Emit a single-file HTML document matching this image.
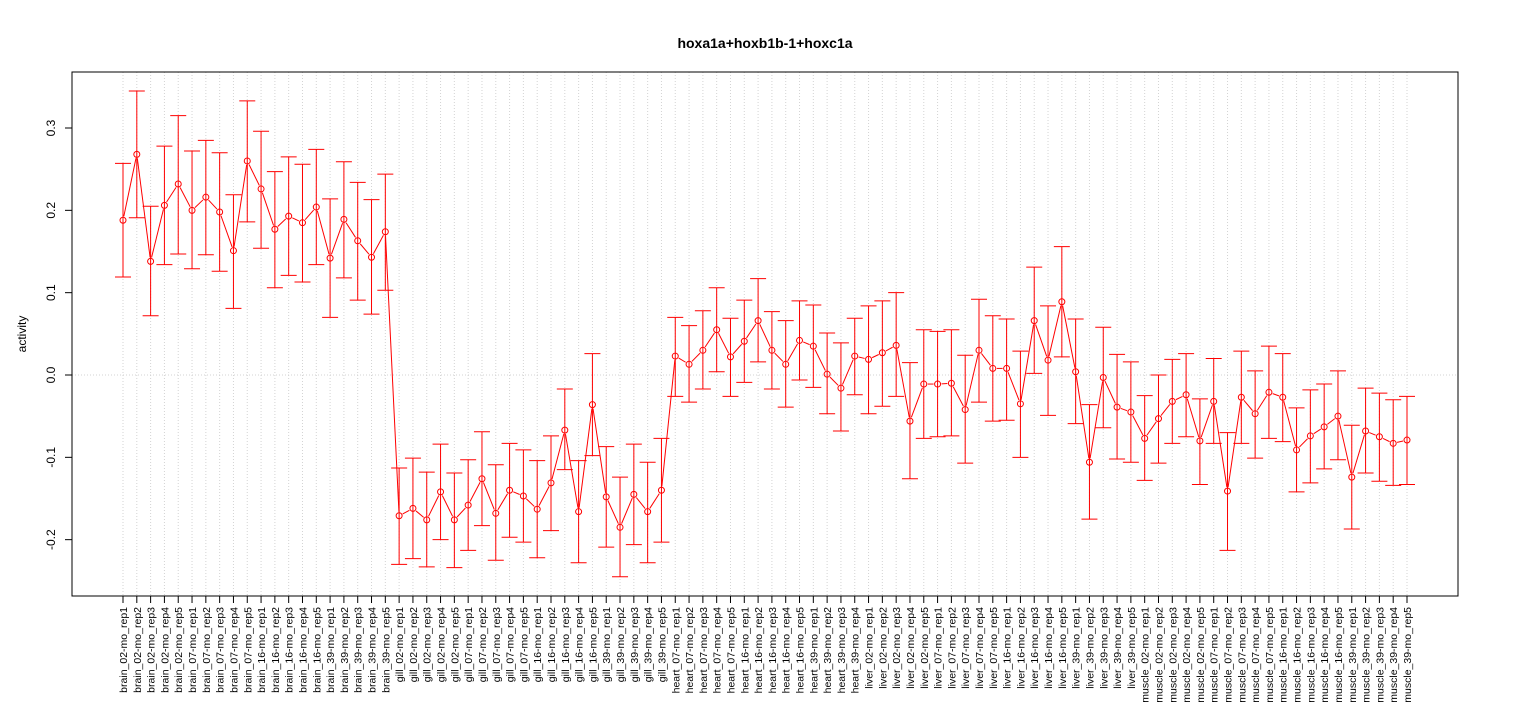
<!DOCTYPE html>
<html><head><meta charset="utf-8"><style>
html,body{margin:0;padding:0;background:#fff}
svg{display:block;font-family:"Liberation Sans",Arial,sans-serif}
</style></head><body>
<svg id="chart" width="1530" height="720" viewBox="0 0 1530 720" xmlns="http://www.w3.org/2000/svg">
<text x="765" y="48" text-anchor="middle" font-size="14" font-weight="bold">hoxa1a+hoxb1b-1+hoxc1a</text>
<text transform="translate(26,334) rotate(-90)" text-anchor="middle" font-size="12">activity</text>
<g id="grid"></g>
<g id="yaxis"></g>
<g id="xaxis"></g>
<g id="series"></g>
<rect x="72" y="72" width="1386" height="524" fill="none" stroke="#000" stroke-width="1"/>
</svg>
<script>
const tissues = ["brain","gill","heart","liver","muscle"];
const categories = [];
[["brain",["02","07","16","39"]],["gill",["02","07","16","39"]],["heart",["07","16","39"]],["liver",["02","07","16","39"]],["muscle",["02","07","16","39"]]].forEach(([t,ages])=>{
  ages.forEach(a=>{const n=(t==="heart"&&a==="39")?4:5;for(let r=1;r<=n;r++)categories.push(t+"_"+a+"-mo_rep"+r);});
});
const meanValues = [0.188,0.268,0.138,0.206,0.232,0.200,0.216,0.198,0.151,0.260,0.226,0.177,0.193,0.185,0.204,0.142,0.189,0.163,0.143,0.174,
-0.171,-0.162,-0.176,-0.142,-0.176,-0.158,-0.126,-0.168,-0.140,-0.147,-0.163,-0.131,-0.067,-0.166,-0.036,-0.148,-0.185,-0.145,-0.166,-0.140,
0.023,0.013,0.030,0.055,0.022,0.041,0.066,0.030,0.013,0.042,0.035,0.001,-0.016,0.023,
0.019,0.027,0.036,-0.056,-0.011,-0.011,-0.010,-0.042,0.030,0.008,0.008,-0.035,0.066,0.018,0.089,0.004,-0.106,-0.003,-0.039,-0.045,
-0.077,-0.053,-0.032,-0.024,-0.080,-0.032,-0.141,-0.027,-0.047,-0.021,-0.027,-0.091,-0.074,-0.063,-0.050,-0.124,-0.068,-0.075,-0.083,-0.079];
const upperValues = [0.257,0.345,0.205,0.278,0.315,0.272,0.285,0.270,0.219,0.333,0.296,0.247,0.265,0.256,0.274,0.214,0.259,0.234,0.213,0.244,
-0.113,-0.101,-0.118,-0.084,-0.119,-0.103,-0.069,-0.109,-0.083,-0.091,-0.104,-0.074,-0.017,-0.104,0.026,-0.087,-0.124,-0.084,-0.106,-0.077,
0.070,0.060,0.078,0.106,0.069,0.091,0.117,0.077,0.066,0.090,0.085,0.051,0.039,0.069,
0.084,0.090,0.100,0.015,0.055,0.053,0.055,0.024,0.092,0.072,0.068,0.029,0.131,0.084,0.156,0.068,-0.036,0.058,0.025,0.016,
-0.025,0.000,0.019,0.026,-0.029,0.020,-0.070,0.029,0.005,0.035,0.026,-0.040,-0.018,-0.011,0.005,-0.061,-0.016,-0.022,-0.030,-0.026];
const lowerValues = [0.119,0.191,0.072,0.134,0.147,0.129,0.146,0.126,0.081,0.186,0.154,0.106,0.121,0.113,0.134,0.070,0.118,0.091,0.074,0.103,
-0.230,-0.223,-0.233,-0.200,-0.234,-0.213,-0.183,-0.225,-0.197,-0.203,-0.222,-0.189,-0.115,-0.228,-0.098,-0.209,-0.245,-0.206,-0.228,-0.203,
-0.026,-0.033,-0.017,0.004,-0.026,-0.009,0.016,-0.017,-0.039,-0.006,-0.015,-0.047,-0.068,-0.024,
-0.047,-0.038,-0.026,-0.126,-0.077,-0.075,-0.074,-0.107,-0.033,-0.056,-0.055,-0.100,0.002,-0.049,0.022,-0.059,-0.175,-0.064,-0.102,-0.106,
-0.128,-0.107,-0.083,-0.075,-0.133,-0.083,-0.213,-0.083,-0.101,-0.077,-0.081,-0.142,-0.131,-0.114,-0.103,-0.187,-0.119,-0.129,-0.134,-0.133];
const yTicks = [-0.2,-0.1,0.0,0.1,0.2,0.3];
const yTickLabels = ["-0.2","-0.1","0.0","0.1","0.2","0.3"];

const NS="http://www.w3.org/2000/svg";
const x0=123, x1=1407;
function xScale(i){return x0+(x1-x0)*i/(categories.length-1);}
function yScale(v){return 375 - v*823.3;}
function mk(tag,attrs,parent){const e=document.createElementNS(NS,tag);for(const k in attrs)e.setAttribute(k,attrs[k]);parent.appendChild(e);return e;}
const grid=document.getElementById('grid'),ya=document.getElementById('yaxis'),xa=document.getElementById('xaxis'),ser=document.getElementById('series');

categories.forEach((c,i)=>{
  const x=xScale(i);
  const g=mk('line',{x1:x,x2:x,y1:72,y2:596,stroke:'#d3d3d3','stroke-dasharray':'1,2','stroke-width':1},grid);
  
  
  const t=mk('line',{x1:x,x2:x,y1:596,y2:603,stroke:'#000'},xa);
  
  
  const l=mk('text',{transform:`translate(${x+4},607) rotate(-90)`,'text-anchor':'end','font-size':'10.5'},xa);
  l.textContent=c;
  
  
});
const zl=mk('line',{x1:72,x2:1458,y1:yScale(0),y2:yScale(0),stroke:'#d3d3d3','stroke-dasharray':'1,2'},grid);


mk('line',{x1:72,x2:72,y1:yScale(-0.2),y2:yScale(0.3),stroke:'#000'},ya);
yTicks.forEach((v,k)=>{
  const y=yScale(v);
  const t=mk('line',{x1:65,x2:72,y1:y,y2:y,stroke:'#000'},ya);
  
  
  const l=mk('text',{transform:`translate(55,${y}) rotate(-90)`,'text-anchor':'middle','font-size':'12'},ya);
  l.textContent=yTickLabels[k];
  
  
});
// error bars
categories.forEach((c,i)=>{
  const x=xScale(i),yu=yScale(upperValues[i]),yl=yScale(lowerValues[i]);
  const e=mk('path',{d:`M${x},${yu}V${yl}M${x-8},${yu}H${x+8}M${x-8},${yl}H${x+8}`,stroke:'#ff0000','stroke-width':1,fill:'none'},ser);
  
  
});
// line segments between points (type "b")
for(let i=0;i<categories.length-1;i++){
  const xa1=xScale(i),ya1=yScale(meanValues[i]),xb=xScale(i+1),yb=yScale(meanValues[i+1]);
  const dx=xb-xa1,dy=yb-ya1,d=Math.hypot(dx,dy);
  if(d<8)continue;
  const ux=dx/d*4,uy=dy/d*4;
  const s=mk('line',{x1:xa1+ux,y1:ya1+uy,x2:xb-ux,y2:yb-uy,stroke:'#ff0000','stroke-width':1},ser);
  
  
}
categories.forEach((c,i)=>{
  const p=mk('circle',{cx:xScale(i),cy:yScale(meanValues[i]),r:3,fill:'none',stroke:'#ff0000','stroke-width':1},ser);
  
  
});
</script>
</body></html>
